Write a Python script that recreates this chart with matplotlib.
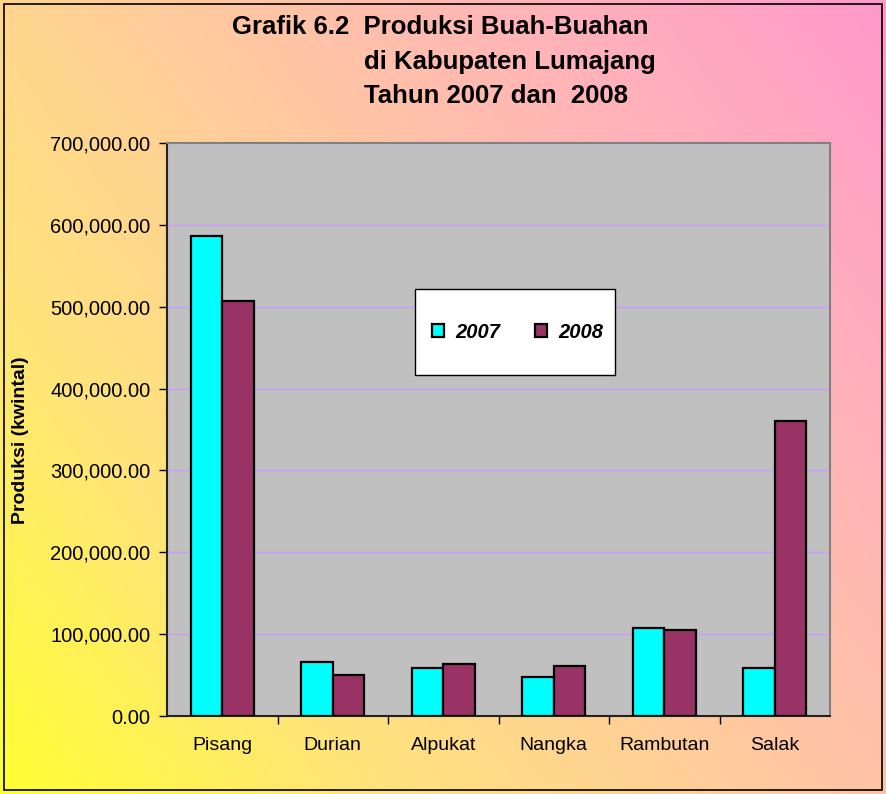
import numpy as np
import matplotlib.pyplot as plt
from matplotlib.colors import LinearSegmentedColormap
from matplotlib.patches import Rectangle
from matplotlib.ticker import FuncFormatter

buah = ["Pisang", "Durian", "Alpukat", "Nangka", "Rambutan", "Salak"]
prod_2007 = [586500, 66500, 59000, 47500, 107500, 59000]
prod_2008 = [507500, 50500, 64000, 61500, 105000, 360500]
tahun = ["2007", "2008"]

plt.rcParams['font.family'] = ['Liberation Sans', 'DejaVu Sans']

fig = plt.figure(figsize=(8.86, 7.94), dpi=100)

# latar gradasi: kuning (kiri bawah) -> peach -> pink (kanan atas)
bg = fig.add_axes([0, 0, 1, 1], zorder=-10)
bg.axis("off")
cmap = LinearSegmentedColormap.from_list("bg", ["#FFFF33", "#FFE47A", "#FFCC9C", "#FFB4B8", "#FF99CC"])
u, v = np.meshgrid(np.linspace(0, 1, 300), np.linspace(1, 0, 300))
t = 0.6 * u + 0.4 * v
bg.imshow(t, cmap=cmap, aspect="auto", extent=[0, 1, 0, 1], vmin=0, vmax=1)
bg.set_xlim(0, 1) ; bg.set_ylim(0, 1)
fig.patches.append(Rectangle((0.005, 0.005), 0.99, 0.99, transform=fig.transFigure,
                             fill=False, edgecolor="black", linewidth=1.2))

ax = fig.add_axes([0.1885, 0.0982, 0.7483, 0.7217])
ax.set_facecolor("#C0C0C0")
x = np.arange(len(buah))
w = 0.285
ax.bar(x - w / 2, prod_2007, w, color="#00FFFF", edgecolor="black", linewidth=1.6, label=tahun[0], zorder=3)
ax.bar(x + w / 2, prod_2008, w, color="#993366", edgecolor="black", linewidth=1.6, label=tahun[1], zorder=3)

ax.set_xlim(-0.5, len(buah) - 0.5)
ax.set_ylim(0, 700000)
ax.set_yticks(np.arange(0, 700001, 100000))
ax.yaxis.set_major_formatter(FuncFormatter(lambda v, p: f"{v:,.2f}"))
ax.yaxis.grid(True, color="#CC99FF", linewidth=1, zorder=0)
ax.set_axisbelow(True)
ax.set_xticks(x)
ax.set_xticklabels(buah, fontsize=14)
ax.set_xticks(np.arange(0.5, len(buah) - 0.5, 1), minor=True)
ax.tick_params(axis="x", which="major", length=0, pad=15)
ax.tick_params(axis="x", which="minor", length=6, width=1, direction="out")
ax.tick_params(axis="y", length=6, width=1, labelsize=14.5, pad=6)
for s in ["top", "right"]:
    ax.spines[s].set_color("#808080")
    ax.spines[s].set_linewidth(1.5)
for s in ["left", "bottom"]:
    ax.spines[s].set_color("#222222")
    ax.spines[s].set_linewidth(1.5)

ax.set_ylabel("Produksi (kwintal)", fontsize=14, fontweight="bold")
ax.yaxis.set_label_coords(-0.208, 0.482)

# kotak legenda
ax.add_patch(Rectangle((0.374, 0.595), 0.302, 0.15, transform=ax.transAxes,
                       facecolor="white", edgecolor="black", linewidth=1.0, zorder=4))
leg = ax.legend(loc="center", bbox_to_anchor=(0.529, 0.67), ncol=2,
                prop={"size": 14.5, "weight": "bold", "style": "italic"},
                frameon=False, handlelength=0.6, handleheight=0.6, handletextpad=0.55,
                columnspacing=1.75)
leg.set_zorder(5)

fig.text(232 / 886, 1 - 27 / 794, "Grafik 6.2  Produksi Buah-Buahan", fontsize=18.5, fontweight="bold", va="center", ha="left")
fig.text(364 / 886, 1 - 62 / 794, "di Kabupaten Lumajang", fontsize=18.5, fontweight="bold", va="center", ha="left")
fig.text(364 / 886, 1 - 96 / 794, "Tahun 2007 dan  2008", fontsize=18.5, fontweight="bold", va="center", ha="left")

fig.savefig("out.png", dpi=100)
